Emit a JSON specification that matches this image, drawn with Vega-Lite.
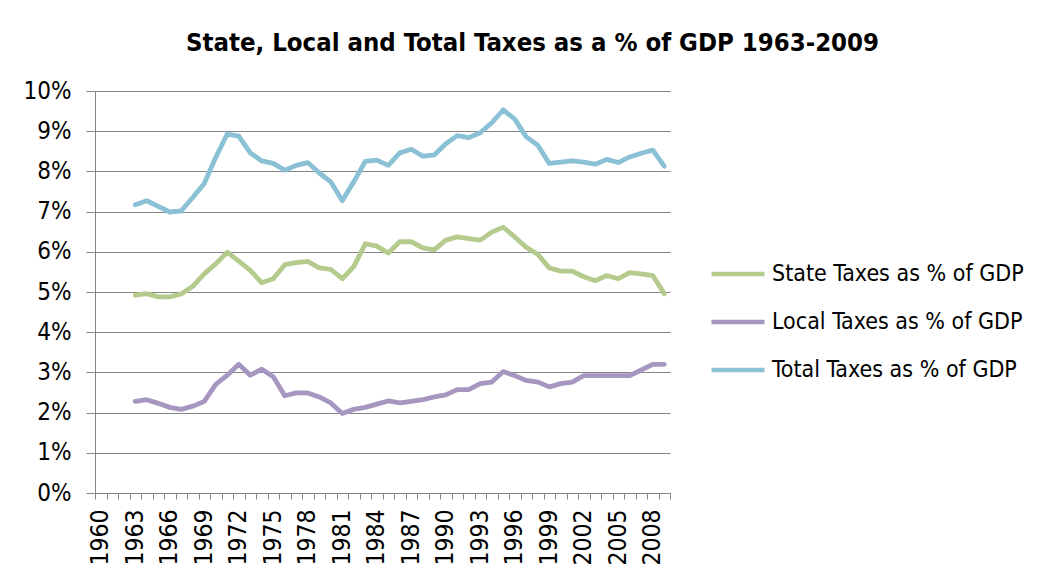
{
  "$schema": "https://vega.github.io/schema/vega-lite/v6.json",
  "width": 575,
  "height": 402,
  "autosize": "none",
  "padding": {"left": 95, "top": 91, "right": 383, "bottom": 88},
  "background": "white",
  "title": {
    "text": "State, Local and Total Taxes as a % of GDP 1963-2009",
    "font": "Liberation Sans Narrow, Arial Narrow, DejaVu Sans Condensed, sans-serif",
    "fontSize": 25.5,
    "fontWeight": "bold",
    "color": "#000000",
    "anchor": "middle",
    "dx": 150,
    "offset": 23
  },
  "config": {
    "view": {"stroke": null},
    "font": "Liberation Sans Narrow, Arial Narrow, DejaVu Sans Condensed, sans-serif"
  },
  "data": {
    "values": [
      {"year": 1963, "series": "State Taxes as % of GDP", "value": 4.92},
      {"year": 1964, "series": "State Taxes as % of GDP", "value": 4.96},
      {"year": 1965, "series": "State Taxes as % of GDP", "value": 4.88},
      {"year": 1966, "series": "State Taxes as % of GDP", "value": 4.88},
      {"year": 1967, "series": "State Taxes as % of GDP", "value": 4.95},
      {"year": 1968, "series": "State Taxes as % of GDP", "value": 5.14},
      {"year": 1969, "series": "State Taxes as % of GDP", "value": 5.45},
      {"year": 1970, "series": "State Taxes as % of GDP", "value": 5.70},
      {"year": 1971, "series": "State Taxes as % of GDP", "value": 5.99},
      {"year": 1972, "series": "State Taxes as % of GDP", "value": 5.77},
      {"year": 1973, "series": "State Taxes as % of GDP", "value": 5.54},
      {"year": 1974, "series": "State Taxes as % of GDP", "value": 5.23},
      {"year": 1975, "series": "State Taxes as % of GDP", "value": 5.33},
      {"year": 1976, "series": "State Taxes as % of GDP", "value": 5.68},
      {"year": 1977, "series": "State Taxes as % of GDP", "value": 5.73},
      {"year": 1978, "series": "State Taxes as % of GDP", "value": 5.76},
      {"year": 1979, "series": "State Taxes as % of GDP", "value": 5.60},
      {"year": 1980, "series": "State Taxes as % of GDP", "value": 5.56},
      {"year": 1981, "series": "State Taxes as % of GDP", "value": 5.33},
      {"year": 1982, "series": "State Taxes as % of GDP", "value": 5.63},
      {"year": 1983, "series": "State Taxes as % of GDP", "value": 6.20},
      {"year": 1984, "series": "State Taxes as % of GDP", "value": 6.14},
      {"year": 1985, "series": "State Taxes as % of GDP", "value": 5.97},
      {"year": 1986, "series": "State Taxes as % of GDP", "value": 6.25},
      {"year": 1987, "series": "State Taxes as % of GDP", "value": 6.25},
      {"year": 1988, "series": "State Taxes as % of GDP", "value": 6.10},
      {"year": 1989, "series": "State Taxes as % of GDP", "value": 6.05},
      {"year": 1990, "series": "State Taxes as % of GDP", "value": 6.29},
      {"year": 1991, "series": "State Taxes as % of GDP", "value": 6.37},
      {"year": 1992, "series": "State Taxes as % of GDP", "value": 6.33},
      {"year": 1993, "series": "State Taxes as % of GDP", "value": 6.29},
      {"year": 1994, "series": "State Taxes as % of GDP", "value": 6.49},
      {"year": 1995, "series": "State Taxes as % of GDP", "value": 6.61},
      {"year": 1996, "series": "State Taxes as % of GDP", "value": 6.37},
      {"year": 1997, "series": "State Taxes as % of GDP", "value": 6.11},
      {"year": 1998, "series": "State Taxes as % of GDP", "value": 5.94},
      {"year": 1999, "series": "State Taxes as % of GDP", "value": 5.60},
      {"year": 2000, "series": "State Taxes as % of GDP", "value": 5.52},
      {"year": 2001, "series": "State Taxes as % of GDP", "value": 5.52},
      {"year": 2002, "series": "State Taxes as % of GDP", "value": 5.38},
      {"year": 2003, "series": "State Taxes as % of GDP", "value": 5.28},
      {"year": 2004, "series": "State Taxes as % of GDP", "value": 5.41},
      {"year": 2005, "series": "State Taxes as % of GDP", "value": 5.33},
      {"year": 2006, "series": "State Taxes as % of GDP", "value": 5.48},
      {"year": 2007, "series": "State Taxes as % of GDP", "value": 5.45},
      {"year": 2008, "series": "State Taxes as % of GDP", "value": 5.41},
      {"year": 2009, "series": "State Taxes as % of GDP", "value": 4.96},
      {"year": 1963, "series": "Local Taxes as % of GDP", "value": 2.28},
      {"year": 1964, "series": "Local Taxes as % of GDP", "value": 2.32},
      {"year": 1965, "series": "Local Taxes as % of GDP", "value": 2.23},
      {"year": 1966, "series": "Local Taxes as % of GDP", "value": 2.13},
      {"year": 1967, "series": "Local Taxes as % of GDP", "value": 2.08},
      {"year": 1968, "series": "Local Taxes as % of GDP", "value": 2.16},
      {"year": 1969, "series": "Local Taxes as % of GDP", "value": 2.28},
      {"year": 1970, "series": "Local Taxes as % of GDP", "value": 2.70},
      {"year": 1971, "series": "Local Taxes as % of GDP", "value": 2.93},
      {"year": 1972, "series": "Local Taxes as % of GDP", "value": 3.20},
      {"year": 1973, "series": "Local Taxes as % of GDP", "value": 2.93},
      {"year": 1974, "series": "Local Taxes as % of GDP", "value": 3.08},
      {"year": 1975, "series": "Local Taxes as % of GDP", "value": 2.89},
      {"year": 1976, "series": "Local Taxes as % of GDP", "value": 2.42},
      {"year": 1977, "series": "Local Taxes as % of GDP", "value": 2.49},
      {"year": 1978, "series": "Local Taxes as % of GDP", "value": 2.49},
      {"year": 1979, "series": "Local Taxes as % of GDP", "value": 2.39},
      {"year": 1980, "series": "Local Taxes as % of GDP", "value": 2.24},
      {"year": 1981, "series": "Local Taxes as % of GDP", "value": 1.98},
      {"year": 1982, "series": "Local Taxes as % of GDP", "value": 2.08},
      {"year": 1983, "series": "Local Taxes as % of GDP", "value": 2.13},
      {"year": 1984, "series": "Local Taxes as % of GDP", "value": 2.21},
      {"year": 1985, "series": "Local Taxes as % of GDP", "value": 2.29},
      {"year": 1986, "series": "Local Taxes as % of GDP", "value": 2.24},
      {"year": 1987, "series": "Local Taxes as % of GDP", "value": 2.28},
      {"year": 1988, "series": "Local Taxes as % of GDP", "value": 2.32},
      {"year": 1989, "series": "Local Taxes as % of GDP", "value": 2.39},
      {"year": 1990, "series": "Local Taxes as % of GDP", "value": 2.44},
      {"year": 1991, "series": "Local Taxes as % of GDP", "value": 2.57},
      {"year": 1992, "series": "Local Taxes as % of GDP", "value": 2.57},
      {"year": 1993, "series": "Local Taxes as % of GDP", "value": 2.72},
      {"year": 1994, "series": "Local Taxes as % of GDP", "value": 2.76},
      {"year": 1995, "series": "Local Taxes as % of GDP", "value": 3.02},
      {"year": 1996, "series": "Local Taxes as % of GDP", "value": 2.92},
      {"year": 1997, "series": "Local Taxes as % of GDP", "value": 2.80},
      {"year": 1998, "series": "Local Taxes as % of GDP", "value": 2.76},
      {"year": 1999, "series": "Local Taxes as % of GDP", "value": 2.64},
      {"year": 2000, "series": "Local Taxes as % of GDP", "value": 2.72},
      {"year": 2001, "series": "Local Taxes as % of GDP", "value": 2.76},
      {"year": 2002, "series": "Local Taxes as % of GDP", "value": 2.92},
      {"year": 2003, "series": "Local Taxes as % of GDP", "value": 2.92},
      {"year": 2004, "series": "Local Taxes as % of GDP", "value": 2.92},
      {"year": 2005, "series": "Local Taxes as % of GDP", "value": 2.92},
      {"year": 2006, "series": "Local Taxes as % of GDP", "value": 2.92},
      {"year": 2007, "series": "Local Taxes as % of GDP", "value": 3.06},
      {"year": 2008, "series": "Local Taxes as % of GDP", "value": 3.20},
      {"year": 2009, "series": "Local Taxes as % of GDP", "value": 3.20},
      {"year": 1963, "series": "Total Taxes as % of GDP", "value": 7.17},
      {"year": 1964, "series": "Total Taxes as % of GDP", "value": 7.27},
      {"year": 1965, "series": "Total Taxes as % of GDP", "value": 7.13},
      {"year": 1966, "series": "Total Taxes as % of GDP", "value": 6.99},
      {"year": 1967, "series": "Total Taxes as % of GDP", "value": 7.02},
      {"year": 1968, "series": "Total Taxes as % of GDP", "value": 7.35},
      {"year": 1969, "series": "Total Taxes as % of GDP", "value": 7.70},
      {"year": 1970, "series": "Total Taxes as % of GDP", "value": 8.35},
      {"year": 1971, "series": "Total Taxes as % of GDP", "value": 8.93},
      {"year": 1972, "series": "Total Taxes as % of GDP", "value": 8.88},
      {"year": 1973, "series": "Total Taxes as % of GDP", "value": 8.46},
      {"year": 1974, "series": "Total Taxes as % of GDP", "value": 8.26},
      {"year": 1975, "series": "Total Taxes as % of GDP", "value": 8.20},
      {"year": 1976, "series": "Total Taxes as % of GDP", "value": 8.03},
      {"year": 1977, "series": "Total Taxes as % of GDP", "value": 8.15},
      {"year": 1978, "series": "Total Taxes as % of GDP", "value": 8.22},
      {"year": 1979, "series": "Total Taxes as % of GDP", "value": 7.96},
      {"year": 1980, "series": "Total Taxes as % of GDP", "value": 7.74},
      {"year": 1981, "series": "Total Taxes as % of GDP", "value": 7.27},
      {"year": 1982, "series": "Total Taxes as % of GDP", "value": 7.74},
      {"year": 1983, "series": "Total Taxes as % of GDP", "value": 8.25},
      {"year": 1984, "series": "Total Taxes as % of GDP", "value": 8.28},
      {"year": 1985, "series": "Total Taxes as % of GDP", "value": 8.15},
      {"year": 1986, "series": "Total Taxes as % of GDP", "value": 8.46},
      {"year": 1987, "series": "Total Taxes as % of GDP", "value": 8.55},
      {"year": 1988, "series": "Total Taxes as % of GDP", "value": 8.38},
      {"year": 1989, "series": "Total Taxes as % of GDP", "value": 8.41},
      {"year": 1990, "series": "Total Taxes as % of GDP", "value": 8.69},
      {"year": 1991, "series": "Total Taxes as % of GDP", "value": 8.89},
      {"year": 1992, "series": "Total Taxes as % of GDP", "value": 8.84},
      {"year": 1993, "series": "Total Taxes as % of GDP", "value": 8.96},
      {"year": 1994, "series": "Total Taxes as % of GDP", "value": 9.21},
      {"year": 1995, "series": "Total Taxes as % of GDP", "value": 9.53},
      {"year": 1996, "series": "Total Taxes as % of GDP", "value": 9.30},
      {"year": 1997, "series": "Total Taxes as % of GDP", "value": 8.86},
      {"year": 1998, "series": "Total Taxes as % of GDP", "value": 8.65},
      {"year": 1999, "series": "Total Taxes as % of GDP", "value": 8.20},
      {"year": 2000, "series": "Total Taxes as % of GDP", "value": 8.23},
      {"year": 2001, "series": "Total Taxes as % of GDP", "value": 8.26},
      {"year": 2002, "series": "Total Taxes as % of GDP", "value": 8.23},
      {"year": 2003, "series": "Total Taxes as % of GDP", "value": 8.18},
      {"year": 2004, "series": "Total Taxes as % of GDP", "value": 8.30},
      {"year": 2005, "series": "Total Taxes as % of GDP", "value": 8.22},
      {"year": 2006, "series": "Total Taxes as % of GDP", "value": 8.36},
      {"year": 2007, "series": "Total Taxes as % of GDP", "value": 8.45},
      {"year": 2008, "series": "Total Taxes as % of GDP", "value": 8.53},
      {"year": 2009, "series": "Total Taxes as % of GDP", "value": 8.13}
    ]
  },
  "mark": {"type": "line", "strokeWidth": 4.8, "strokeJoin": "round", "strokeCap": "round"},
  "encoding": {
    "x": {
      "field": "year",
      "type": "quantitative",
      "scale": {"domain": [1959.5, 2009.5], "nice": false, "zero": false},
      "axis": {
        "title": null,
        "values": [1959.5, 1960.5, 1961.5, 1962.5, 1963.5, 1964.5, 1965.5, 1966.5, 1967.5, 1968.5, 1969.5, 1970.5, 1971.5, 1972.5, 1973.5, 1974.5, 1975.5, 1976.5, 1977.5, 1978.5, 1979.5, 1980.5, 1981.5, 1982.5, 1983.5, 1984.5, 1985.5, 1986.5, 1987.5, 1988.5, 1989.5, 1990.5, 1991.5, 1992.5, 1993.5, 1994.5, 1995.5, 1996.5, 1997.5, 1998.5, 1999.5, 2000.5, 2001.5, 2002.5, 2003.5, 2004.5, 2005.5, 2006.5, 2007.5, 2008.5, 2009.5],
        "labelExpr": "((datum.value + 0.5 - 1960) % 3 == 0 && datum.value < 2009) ? format(datum.value + 0.5, 'd') : ''",
        "labelOverlap": false,
        "labelAngle": 270,
        "labelAlign": "right",
        "labelBaseline": "middle",
        "labelOffset": 5.75,
        "labelFontSize": 24.5,
        "labelColor": "#000000",
        "labelPadding": 10,
        "labelFlush": false,
        "labelBound": false,
        "tickSize": 6,
        "tickColor": "#868686",
        "domainColor": "#868686",
        "grid": false
      }
    },
    "y": {
      "field": "value",
      "type": "quantitative",
      "scale": {"domain": [0, 10], "nice": false},
      "axis": {
        "title": null,
        "values": [0, 1, 2, 3, 4, 5, 6, 7, 8, 9, 10],
        "labelExpr": "datum.value + '%'",
        "labelFontSize": 24,
        "labelColor": "#000000",
        "labelPadding": 15,
        "tickSize": 9,
        "tickColor": "#868686",
        "domainColor": "#868686",
        "grid": true,
        "gridColor": "#868686",
        "gridOpacity": 1,
        "gridWidth": 1
      }
    },
    "color": {
      "field": "series",
      "type": "nominal",
      "scale": {
        "domain": ["State Taxes as % of GDP", "Local Taxes as % of GDP", "Total Taxes as % of GDP"],
        "range": ["#B4CB8D", "#A697C1", "#8BC1D5"]
      },
      "legend": {
        "title": null,
        "orient": "none",
        "legendX": 614,
        "legendY": 154,
        "padding": 0,
        "symbolType": "stroke",
        "symbolSize": 2809,
        "symbolStrokeWidth": 4.5,
        "labelFontSize": 23,
        "labelColor": "#000000",
        "labelLimit": 400,
        "labelOffset": 5,
        "rowPadding": 7
      }
    }
  }
}
